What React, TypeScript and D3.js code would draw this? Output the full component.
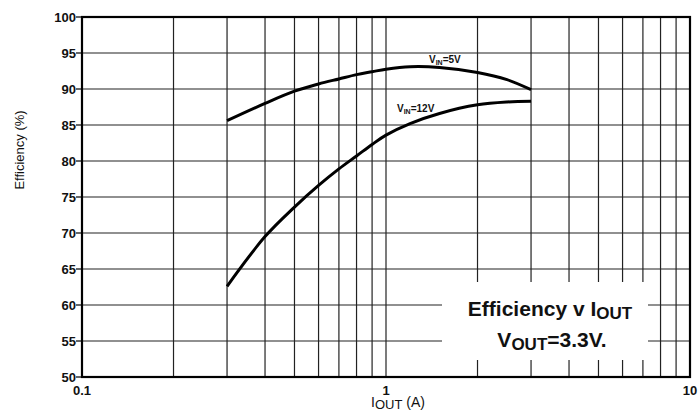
import React, { useEffect, useRef } from 'react';
import * as d3 from 'd3';

const currents = [0.3, 0.4, 0.5, 0.6, 0.7, 0.8, 0.9, 1.0, 1.2, 1.5, 2, 2.5, 3];
const vin5 = [85.6, 88.0, 89.7, 90.7, 91.4, 92.0, 92.4, 92.75, 93.1, 93.0, 92.3, 91.3, 89.9];
const vin12 = [62.6, 69.5, 73.6, 76.6, 78.9, 80.7, 82.3, 83.6, 85.2, 86.6, 87.8, 88.2, 88.3];
const yTicks = [50, 55, 60, 65, 70, 75, 80, 85, 90, 95, 100];
const xTickLabels = [0.1, 1, 10];

const FONT = '"Liberation Sans", Arial, sans-serif';

export default function App() {
  const svgRef = useRef<SVGSVGElement>(null);

  useEffect(() => {
    document.body.style.margin = '0';
    if (!svgRef.current) return;
    const root = d3.select(svgRef.current);
    root.selectAll('*').remove();

    const left = 82, right = 690, top = 17, bottom = 377;
    const x = d3.scaleLog().domain([0.1, 10]).range([left, right]);
    const y = d3.scaleLinear().domain([50, 100]).range([bottom, top]);

    const g = root.append('g');

    // vertical grid (2..9 in each decade)
    const minor: number[] = [];
    [0.1, 1].forEach(d => { for (let k = 2; k <= 9; k++) minor.push(d * k); });
    minor.push(1);
    g.selectAll('.vgrid').data(minor).enter().append('line')
      .attr('x1', d => x(d)).attr('x2', d => x(d))
      .attr('y1', top).attr('y2', bottom)
      .attr('stroke', '#222').attr('stroke-width', 1.2);

    // horizontal grid
    g.selectAll('.hgrid').data(yTicks).enter().append('line')
      .attr('x1', left).attr('x2', right)
      .attr('y1', d => y(d)).attr('y2', d => y(d))
      .attr('stroke', '#222').attr('stroke-width', 1.2);

    // title box covering grid
    g.append('rect')
      .attr('x', 442).attr('y', 282).attr('width', 206).attr('height', 78)
      .attr('fill', 'white');

    // frame
    g.append('rect')
      .attr('x', left).attr('y', top).attr('width', right - left).attr('height', bottom - top)
      .attr('fill', 'none').attr('stroke', '#000').attr('stroke-width', 2.2);

    // y ticks + labels
    g.selectAll('.ytick').data(yTicks).enter().append('line')
      .attr('x1', left - 6).attr('x2', left)
      .attr('y1', d => y(d)).attr('y2', d => y(d))
      .attr('stroke', '#000').attr('stroke-width', 1.2);
    g.selectAll('.ylab').data(yTicks).enter().append('text')
      .attr('x', left - 6).attr('y', d => y(d) + 4.5)
      .attr('text-anchor', 'end')
      .attr('font-family', FONT).attr('font-weight', 'bold').attr('font-size', 13)
      .attr('fill', '#111')
      .text(d => d);

    // x labels
    g.selectAll('.xlab').data(xTickLabels).enter().append('text')
      .attr('x', d => x(d)).attr('y', 395)
      .attr('text-anchor', 'middle')
      .attr('font-family', FONT).attr('font-weight', 'bold').attr('font-size', 13)
      .attr('fill', '#111')
      .text(d => d);

    // axis titles
    g.append('text')
      .attr('transform', 'translate(24,150) rotate(-90)')
      .attr('text-anchor', 'middle')
      .attr('font-family', FONT).attr('font-size', 13).attr('fill', '#111')
      .text('Efficiency (%)');

    const xt = g.append('text')
      .attr('x', 398).attr('y', 407)
      .attr('text-anchor', 'middle')
      .attr('font-family', FONT).attr('font-size', 14).attr('fill', '#111');
    xt.append('tspan').text('I');
    xt.append('tspan').attr('dy', 2).attr('font-size', 13).text('OUT');
    xt.append('tspan').attr('dy', -2).text(' (A)');

    // curves
    const line = d3.line<[number, number]>()
      .x(d => x(d[0])).y(d => y(d[1]))
      .curve(d3.curveCatmullRom.alpha(0.5));
    [vin5, vin12].forEach(series => {
      g.append('path')
        .datum(currents.map((c, i) => [c, series[i]] as [number, number]))
        .attr('d', line)
        .attr('fill', 'none').attr('stroke', '#000').attr('stroke-width', 3);
    });

    // curve labels
    const curveLabel = (lx: number, ly: number, tail: string) => {
      const t = g.append('text').attr('x', lx).attr('y', ly)
        .attr('font-family', FONT).attr('font-weight', 'bold').attr('font-size', 10).attr('fill', '#111');
      t.append('tspan').text('V');
      t.append('tspan').attr('dy', 1.5).attr('font-size', 7).text('IN');
      t.append('tspan').attr('dy', -1.5).text(tail);
    };
    curveLabel(429, 63, '=5V');
    curveLabel(397, 112, '=12V');

    // chart title
    const t1 = g.append('text').attr('x', 550).attr('y', 316).attr('text-anchor', 'middle')
      .attr('font-family', FONT).attr('font-weight', 'bold').attr('font-size', 21).attr('fill', '#111');
    t1.append('tspan').text('Efficiency v I');
    t1.append('tspan').attr('dy', 3).attr('font-size', 17).text('OUT');
    const t2 = g.append('text').attr('x', 552).attr('y', 347).attr('text-anchor', 'middle')
      .attr('font-family', FONT).attr('font-weight', 'bold').attr('font-size', 21).attr('fill', '#111');
    t2.append('tspan').text('V');
    t2.append('tspan').attr('dy', 3).attr('font-size', 17).text('OUT');
    t2.append('tspan').attr('dy', -3).text('=3.3V.');
  }, []);

  return <svg ref={svgRef} width={700} height={417} style={{ display: 'block', background: 'white' }} />;
}
